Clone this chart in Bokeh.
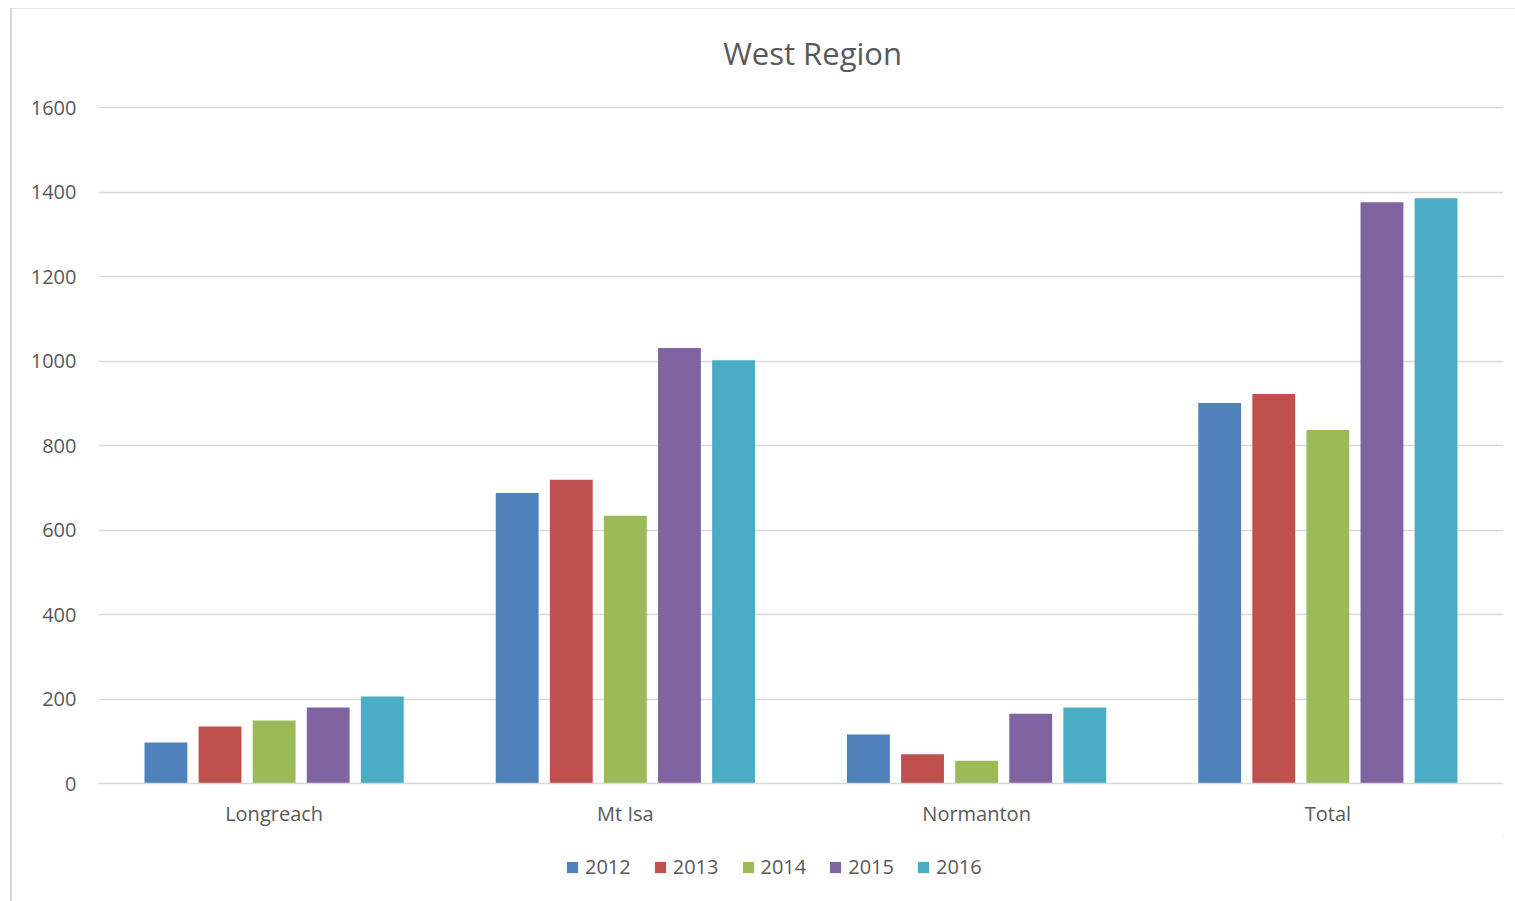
from bokeh.plotting import figure
from bokeh.layouts import column
from bokeh.models import FactorRange, Range1d, ColumnDataSource, Legend, LegendItem, FixedTicker
from bokeh.core.properties import value
from bokeh.transform import dodge
from bokeh.embed import file_html
from bokeh.resources import INLINE

title_text = "West Region"
categories = ["Longreach", "Mt Isa", "Normanton", "Total"]
years = ["2012", "2013", "2014", "2015", "2016"]
v2012 = [97, 688, 116, 901]
v2013 = [135, 719, 69, 922]
v2014 = [149, 634, 54, 837]
v2015 = [180, 1031, 165, 1376]
v2016 = [206, 1002, 180, 1386]
colors = ["#4F81BD", "#C0504D", "#9BBB59", "#8064A2", "#4BACC6"]
y_ticks = [0, 200, 400, 600, 800, 1000, 1200, 1400, 1600]

FONT = "Open Sans"
TXT = "#595959"
W = 1515
TOP_H = 90

# ---- title strip ----
top = figure(width=W, height=TOP_H, output_backend="svg", toolbar_location=None,
             x_range=Range1d(0, W), y_range=Range1d(TOP_H, 0),
             x_axis_location=None, y_axis_location=None,
             min_border_left=0, min_border_right=0, min_border_top=0, min_border_bottom=0)
top.border_fill_alpha = 0
top.background_fill_alpha = 0
top.grid.visible = False
top.outline_line_color = None
top.text(x=[770], y=[52], text=[title_text], text_font=value(FONT), text_font_size="31px",
         text_align="center", text_baseline="middle", text_color=TXT)

# ---- main chart ----
src = ColumnDataSource(dict(cat=categories, y2012=v2012, y2013=v2013, y2014=v2014,
                            y2015=v2015, y2016=v2016))

p = figure(x_range=FactorRange(*categories, range_padding=0), y_range=Range1d(0, 1603),
           width=W, height=836 - TOP_H, output_backend="svg", toolbar_location=None,
           min_border_left=98, min_border_right=12,
           min_border_top=106 - TOP_H, min_border_bottom=53)
p.border_fill_alpha = 0

offsets = [-0.308, -0.154, 0.0, 0.154, 0.308]
cols = ["y2012", "y2013", "y2014", "y2015", "y2016"]
for off, col, c in zip(offsets, cols, colors):
    p.vbar(x=dodge("cat", off, range=p.x_range), top=col, width=0.122, source=src,
           fill_color=c, line_color=None)

p.outline_line_color = None
p.xgrid.grid_line_color = None
p.ygrid.grid_line_color = "#d9d9d9"
p.ygrid.grid_line_width = 1.5
p.yaxis.ticker = FixedTicker(ticks=y_ticks)
p.yaxis.axis_line_color = None
p.yaxis.major_tick_line_color = None
p.yaxis.minor_tick_line_color = None
p.yaxis.major_label_text_font = FONT
p.yaxis.major_label_text_font_size = "20px"
p.yaxis.major_label_text_color = TXT
p.yaxis.major_label_standoff = 16

p.xaxis.axis_line_color = "#d9d9d9"
p.xaxis.axis_line_width = 1.5
p.xaxis.major_tick_line_color = None
p.xaxis.minor_tick_line_color = None
p.xaxis.major_label_text_font = FONT
p.xaxis.major_label_text_font_size = "20px"
p.xaxis.major_label_text_color = TXT
p.xaxis.major_label_standoff = 10

# ---- legend strip ----
lg = figure(width=W, height=65, output_backend="svg", toolbar_location=None,
            x_range=Range1d(0, 1), y_range=Range1d(0, 1),
            min_border_left=0, min_border_right=0, min_border_top=0, min_border_bottom=0)
lg.border_fill_alpha = 0
lg.background_fill_alpha = 0
lg.axis.visible = False
lg.grid.visible = False
lg.outline_line_color = None
items = []
for y, c in zip(years, colors):
    r = lg.vbar(x=[5], top=[5], bottom=[4], width=0.1, fill_color=c, line_color=None)
    items.append(LegendItem(label=y, renderers=[r]))
legend = Legend(items=items, orientation="horizontal", location=(467, 21),
                label_text_font=FONT, label_text_font_size="20px", label_text_color=TXT,
                glyph_width=14, glyph_height=14, spacing=22, label_standoff=6,
                border_line_color=None, background_fill_alpha=0, padding=0, margin=0)
lg.add_layout(legend, "center")

layout = column(top, p, lg, spacing=0)
layout.styles = {
    "background": "linear-gradient(#d9d9d9,#d9d9d9) 10px 8px / 2px 100% no-repeat, "
                  "linear-gradient(#e3e3e3,#e3e3e3) 10px 8px / 100% 1px no-repeat, white"
}

open("out.html", "w").write(file_html(layout, INLINE))
